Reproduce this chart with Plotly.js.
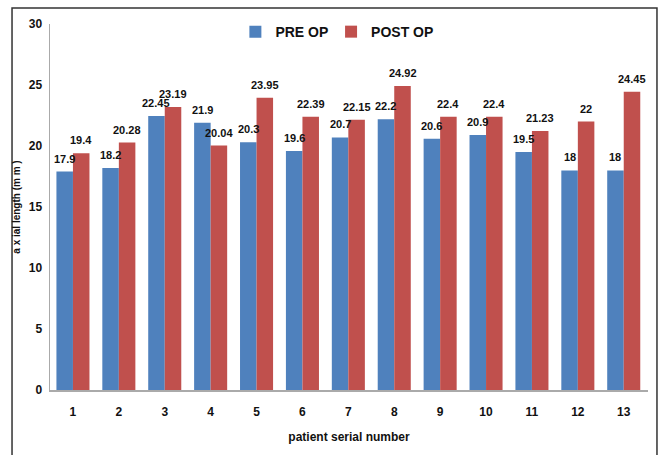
<!DOCTYPE html>
<html>
<head>
<meta charset="utf-8">
<script src="https://cdn.plot.ly/plotly-3.0.1.min.js"></script>
<style>html,body{margin:0;padding:0;background:#fff;}#chart{width:661px;height:455px;}</style>
</head>
<body>
<div id="chart"></div>
<script>
var categories = ["1","2","3","4","5","6","7","8","9","10","11","12","13"];
var preOp = [17.9, 18.2, 22.45, 21.9, 20.3, 19.6, 20.7, 22.2, 20.6, 20.9, 19.5, 18, 18];
var postOp = [19.4, 20.28, 23.19, 20.04, 23.95, 22.39, 22.15, 24.92, 22.4, 22.4, 21.23, 22, 24.45];
var yTicks = [0, 5, 10, 15, 20, 25, 30];

var FONT = "'Liberation Sans Narrow', 'Liberation Sans', Arial, sans-serif";
var BARGAP = 0.28;
var half = (1 - BARGAP) / 4; // offset of each bar centre from category centre

var labelFont = {family: FONT, size: 11, color: '#111', weight: 'bold'};
var legendFont = {family: FONT, size: 14, color: '#111', weight: 'bold'};

var traces = [
  {type: 'bar', name: 'PRE OP', x: categories, y: preOp, legend: 'legend',
   marker: {color: '#4F81BD'}, hoverinfo: 'x+y'},
  {type: 'bar', name: 'POST OP', x: categories, y: postOp, legend: 'legend2',
   marker: {color: '#C0504D'}, hoverinfo: 'x+y'}
];

var annotations = [];
categories.forEach(function (c, i) {
  annotations.push({x: i - half, y: preOp[i], xref: 'x', yref: 'y', text: String(preOp[i]),
    showarrow: false, yanchor: 'bottom', xanchor: 'center', yshift: 5, font: labelFont});
  annotations.push({x: i + half, y: postOp[i], xref: 'x', yref: 'y', text: String(postOp[i]),
    showarrow: false, yanchor: 'bottom', xanchor: 'center', yshift: 5, font: labelFont});
});

var layout = {
  width: 661, height: 455,
  margin: {l: 50, r: 13, t: 24, b: 65},
  paper_bgcolor: '#fff', plot_bgcolor: '#fff',
  barmode: 'group', bargap: BARGAP, bargroupgap: 0,
  showlegend: true,
  legend: {orientation: 'h', x: 0.31, xanchor: 'left', y: 0.978, yanchor: 'middle',
           font: legendFont, bgcolor: 'rgba(0,0,0,0)', itemwidth: 30},
  legend2: {orientation: 'h', x: 0.47, xanchor: 'left', y: 0.978, yanchor: 'middle',
           font: legendFont, bgcolor: 'rgba(0,0,0,0)', itemwidth: 30},
  xaxis: {type: 'category', showline: true, linecolor: '#aaa', linewidth: 1.5,
          ticks: '', showgrid: false, zeroline: false,
          tickfont: {family: FONT, size: 12, color: '#111', weight: 'bold'},
          ticklabelstandoff: 10,
          title: {text: 'patient serial number', standoff: 14,
                  font: {family: FONT, size: 12, color: '#111', weight: 'bold'}}},
  yaxis: {range: [0, 30], tickvals: yTicks, showline: true, linecolor: '#aaa', linewidth: 1.5,
          ticks: '', showgrid: false, zeroline: false,
          tickfont: {family: FONT, size: 12, color: '#111', weight: 'bold'},
          ticklabelstandoff: 4,
          title: {text: 'a x ial length (m m )', standoff: 6,
                  font: {family: FONT, size: 10, color: '#111', weight: 'bold'}}},
  annotations: annotations,
  shapes: [
    {type: 'rect', xref: 'paper', yref: 'paper', x0: -0.0635, x1: 1.015, y0: -0.2, y1: 1.0437,
     line: {color: '#333', width: 1.5}, fillcolor: 'rgba(0,0,0,0)', layer: 'below'}
  ]
};

Plotly.newPlot('chart', traces, layout, {displayModeBar: false, staticPlot: true});
</script>
</body>
</html>
